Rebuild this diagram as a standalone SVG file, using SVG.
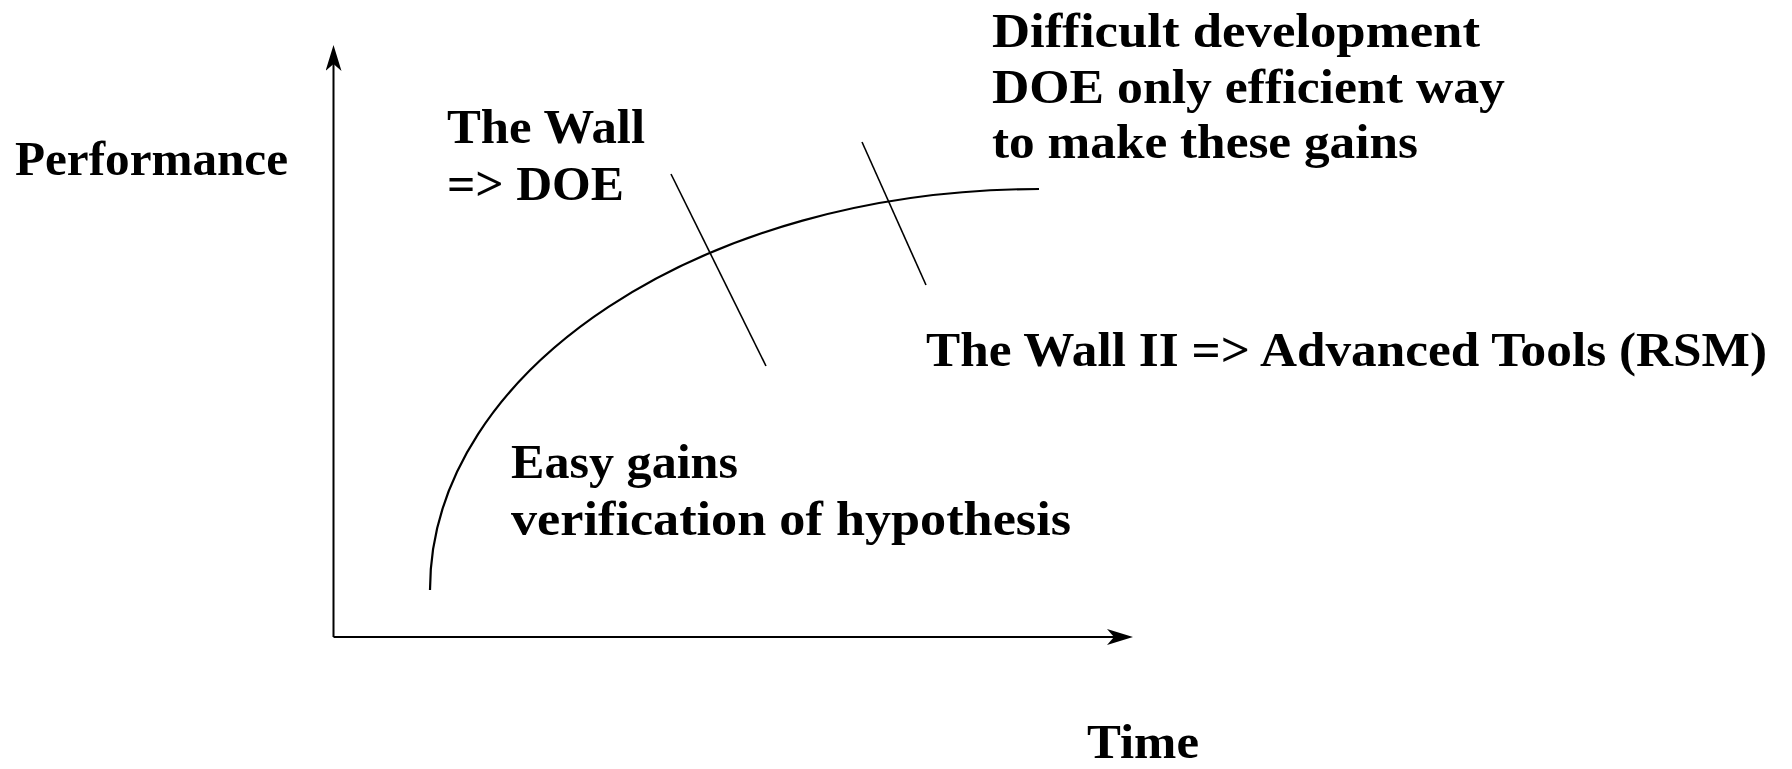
<svg xmlns="http://www.w3.org/2000/svg" width="1792" height="769" viewBox="0 0 1792 769">
  <style>
    .lbl { font-family: "Liberation Serif", "Times New Roman", serif; font-weight: bold; font-size: 49px; fill: #000; }
    .axis { stroke: #000; stroke-width: 2; fill: none; }
    .curve { stroke: #000; stroke-width: 2.2; fill: none; }
    .wall { stroke: #000; stroke-width: 1.6; fill: none; }
  </style>
  <defs>
    <marker id="arrow" viewBox="0 0 26 16" refX="7" refY="8" markerWidth="26" markerHeight="16" markerUnits="userSpaceOnUse" orient="auto">
      <path d="M0,0 L26,8 L0,16 L7,8 Z" fill="#000"/>
    </marker>
  </defs>
  <rect width="1792" height="769" fill="#fff"/>

  <g id="connectors">
    <line class="axis" x1="333.5" y1="637" x2="333.5" y2="64" marker-end="url(#arrow)"/>
    <line class="axis" x1="333.5" y1="637" x2="1114" y2="637" marker-end="url(#arrow)"/>
    <path class="curve" d="M430,590 C430,369 704,189 1039,189"/>
    <line class="wall" x1="671" y1="174" x2="766" y2="366"/>
    <line class="wall" x1="862" y1="142" x2="926" y2="285"/>
  </g>

  <g id="performance">
    <text class="lbl" x="15" y="175" textLength="273" lengthAdjust="spacingAndGlyphs">Performance</text>
  </g>
  <g id="time">
    <text class="lbl" x="1087" y="758" textLength="112" lengthAdjust="spacingAndGlyphs">Time</text>
  </g>
  <g id="wall1">
    <text class="lbl" x="447" y="143" textLength="198" lengthAdjust="spacingAndGlyphs">The Wall</text>
    <text class="lbl" x="447" y="200" textLength="177" lengthAdjust="spacingAndGlyphs">=&gt; DOE</text>
  </g>
  <g id="difficult">
    <text class="lbl" x="992" y="47" textLength="488" lengthAdjust="spacingAndGlyphs">Difficult development</text>
    <text class="lbl" x="992" y="103" textLength="513" lengthAdjust="spacingAndGlyphs">DOE only efficient way</text>
    <text class="lbl" x="992" y="158" textLength="426" lengthAdjust="spacingAndGlyphs">to make these gains</text>
  </g>
  <g id="wall2">
    <text class="lbl" x="926" y="366" textLength="841" lengthAdjust="spacingAndGlyphs">The Wall II =&gt; Advanced Tools (RSM)</text>
  </g>
  <g id="easy">
    <text class="lbl" x="511" y="478" textLength="227" lengthAdjust="spacingAndGlyphs">Easy gains</text>
    <text class="lbl" x="511" y="535" textLength="560" lengthAdjust="spacingAndGlyphs">verification of hypothesis</text>
  </g>
</svg>
